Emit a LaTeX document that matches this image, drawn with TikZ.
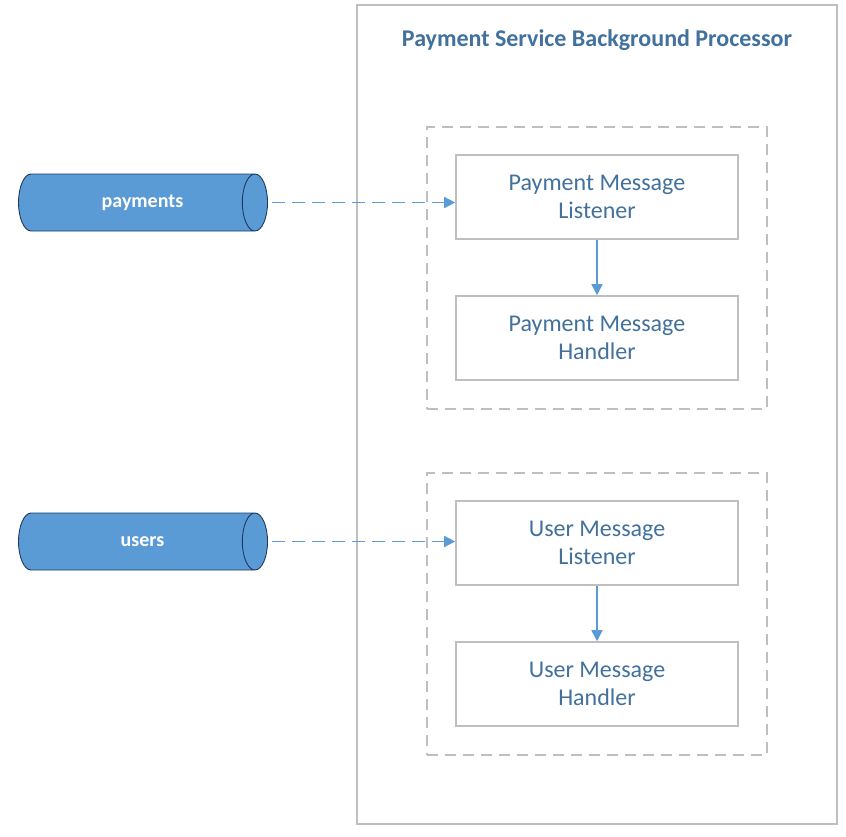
\documentclass[tikz,border=0pt]{standalone}
\usepackage{fontspec}
\setmainfont{Carlito}
\usetikzlibrary{shapes.geometric,arrows.meta}
\definecolor{txtblue}{HTML}{41719C}
\definecolor{cylfill}{HTML}{5B9BD5}
\definecolor{cylline}{HTML}{1F3A5F}
\definecolor{boxgray}{HTML}{BFBFBF}
\definecolor{arrblue}{HTML}{5B9BD5}
\newcommand{\qtext}[1]{\makebox[110pt][c]{\hspace*{12pt}\strut#1}}
\tikzset{
  outerbox/.style={draw=boxgray, line width=1.6pt, fill=white, inner sep=0pt},
  groupbox/.style={draw=boxgray, line width=1.4pt, dash pattern=on 11pt off 7pt, inner sep=0pt},
  compbox/.style={draw=boxgray, line width=1.6pt, fill=white, minimum width=282pt, minimum height=84pt, inner sep=0pt,
    text=txtblue, font=\fontsize{24}{28}\selectfont, align=center},
  queue/.style={cylinder, shape border rotate=0, aspect=1.05, draw=cylline, line width=0.9pt, fill=cylfill,
    minimum width=57pt, minimum height=249pt, inner sep=0pt, text=white, font=\bfseries\fontsize{20}{24}\selectfont},
  dasharrow/.style={draw=arrblue, line width=1.5pt, dash pattern=on 13pt off 7pt, -{Triangle[length=11pt,width=11pt]}},
  solidarrow/.style={draw=arrblue, line width=1.5pt, -{Triangle[length=11pt,width=11pt]}},
}
\begin{document}
\begin{tikzpicture}[x=1pt,y=-1pt]
\useasboundingbox (0,0) rectangle (846,836);
\node[outerbox, minimum width=480pt, minimum height=819pt] (outer) at (597,414.5) {};
\node[text=txtblue, font=\bfseries\fontsize{24}{28}\selectfont] (title) at (597,40) {Payment Service Background Processor};

\node[groupbox, minimum width=340pt, minimum height=282pt] (g1) at (597,268) {};
\node[groupbox, minimum width=340pt, minimum height=282pt] (g2) at (597,614) {};

\node[compbox] (pml) at (597,197) {Payment Message\\Listener};
\node[compbox] (pmh) at (597,338) {Payment Message\\Handler};
\node[compbox] (uml) at (597,543) {User Message\\Listener};
\node[compbox] (umh) at (597,684) {User Message\\Handler};

\node[queue] (payq) at (136.5,202.5) {\qtext{payments}};
\node[queue] (userq) at (136.5,541.5) {\qtext{users}};

\draw[dasharrow] ([xshift=4pt]payq.east) -- (pml.west |- payq.east);
\draw[dasharrow] ([xshift=4pt]userq.east) -- (uml.west |- userq.east);
\draw[solidarrow] (pml.south) -- (pmh.north);
\draw[solidarrow] (uml.south) -- (umh.north);
\end{tikzpicture}
\end{document}
